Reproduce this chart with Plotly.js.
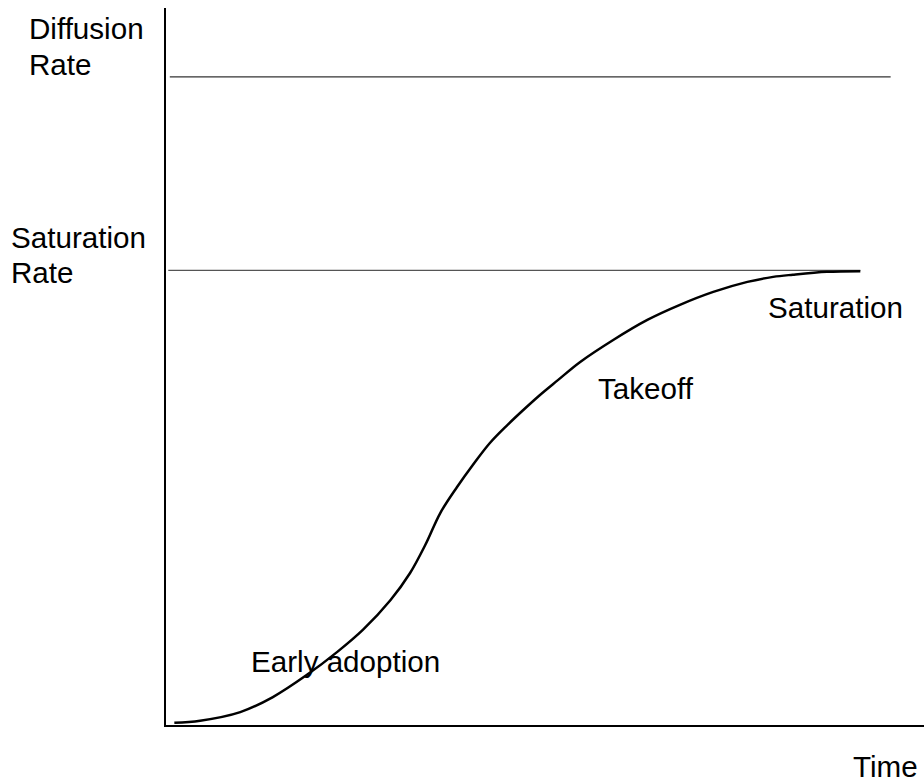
<!DOCTYPE html>
<html>
<head>
<meta charset="utf-8">
<script src="https://cdn.plot.ly/plotly-3.0.1.min.js"></script>
<style>html,body{margin:0;padding:0;background:#fff;}#chart{width:924px;height:782px;}</style>
</head>
<body>
<div id="chart"></div>
<script>
// Time (x) and diffusion/adoption level (y) of the S-curve
const timeX = [1.1, 4.5, 9.8, 14.1, 18.6, 22.6, 26.0, 29.6, 32.2, 34.2, 36.2, 38.4, 40.5, 42.7, 45.0, 47.1, 49.3, 51.7, 54.6, 59.0, 63.5, 67.8, 72.2, 76.7, 80.1, 82.7, 87.2, 91.6];
const adoptionY = [0.3, 0.6, 1.8, 3.9, 7.0, 10.2, 13.3, 17.4, 21.2, 25.1, 29.6, 33.2, 36.3, 39.3, 41.8, 43.9, 46.0, 48.1, 50.6, 53.7, 56.5, 58.6, 60.4, 61.8, 62.5, 62.8, 63.2, 63.3];

// Reference levels
const saturationLevel = 63.4;
const saturationSpan = [0.3, 91.6];
const diffusionLevel = 90.4;
const diffusionSpan = [0.5, 95.6];

// Labels
const phaseLabels = ["Early adoption", "Takeoff", "Saturation"];
const xTitle = "Time";
const topLevelLabel = ["Diffusion", "Rate"];
const satLevelLabel = ["Saturation", "Rate"];

const FONT = "Arial, 'Liberation Sans', Helvetica, sans-serif";
const fs = 29.6;

const traces = [
  {x: diffusionSpan, y: [diffusionLevel, diffusionLevel], mode: 'lines', line: {color: '#333', width: 1.2}, hoverinfo: 'skip'},
  {x: saturationSpan, y: [saturationLevel, saturationLevel], mode: 'lines', line: {color: '#555', width: 1.2}, hoverinfo: 'skip'},
  {x: timeX, y: adoptionY, mode: 'lines', line: {color: '#000', width: 2.5, shape: 'spline', smoothing: 1.0}, hoverinfo: 'skip'}
];

function ann(text, x, y, ref) {
  return {text: text, x: x, y: y, xref: ref === 'paper' ? 'paper' : 'x', yref: ref === 'paper' ? 'paper' : 'y',
          showarrow: false, xanchor: 'left', yanchor: 'middle',
          font: {family: FONT, size: fs, color: '#000'}};
}

const annotations = [
  ann(topLevelLabel[0], -0.183, 0.971, 'paper'),
  ann(topLevelLabel[1], -0.183, 0.921, 'paper'),
  ann(satLevelLabel[0], -0.207, 0.680, 'paper'),
  ann(satLevelLabel[1], -0.207, 0.631, 'paper'),
  ann(phaseLabels[2], 79.1, 58.2),
  ann(phaseLabels[1], 56.7, 47.0),
  ann(phaseLabels[0], 11.0, 8.8),
  ann(xTitle, 0.904, -0.058, 'paper')
];

const layout = {
  width: 924, height: 782,
  margin: {l: 166, r: 0, t: 8, b: 57, pad: 0},
  paper_bgcolor: '#fff', plot_bgcolor: '#fff',
  showlegend: false,
  xaxis: {range: [0, 100], showgrid: false, zeroline: false, showticklabels: false, ticks: '',
          showline: true, linecolor: '#000', linewidth: 2, fixedrange: true},
  yaxis: {range: [0, 100], showgrid: false, zeroline: false, showticklabels: false, ticks: '',
          showline: true, linecolor: '#000', linewidth: 2, fixedrange: true},
  annotations: annotations
};

Plotly.newPlot('chart', traces, layout, {staticPlot: true, displayModeBar: false});
</script>
</body>
</html>
